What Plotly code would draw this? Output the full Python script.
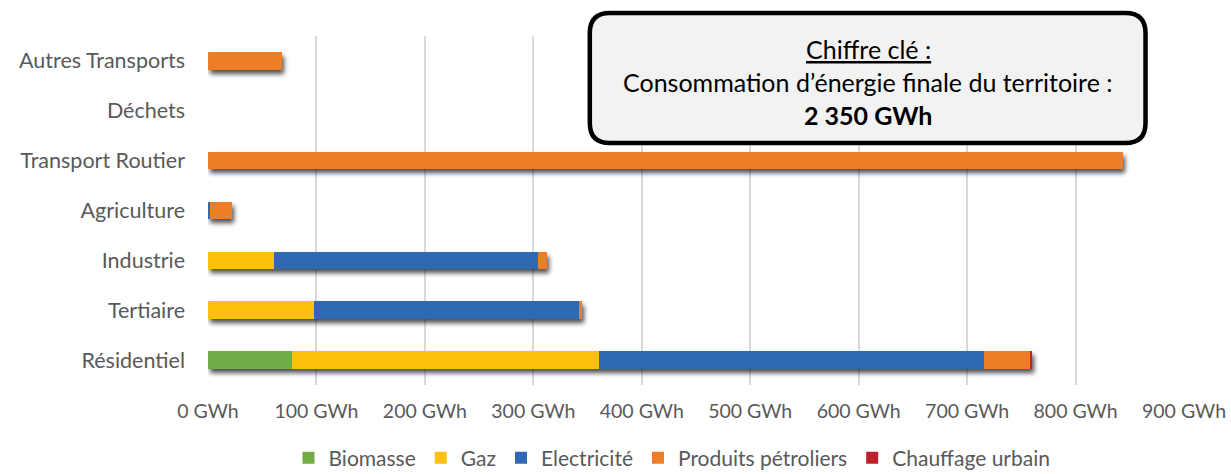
import plotly.graph_objects as go

# Secteurs (de bas en haut) et consommation par énergie, en GWh
secteurs = ["Résidentiel", "Tertiaire", "Industrie", "Agriculture",
            "Transport Routier", "Déchets", "Autres Transports"]

biomasse = [77, 0, 0, 0, 0, 0, 0]
gaz = [284, 97.5, 61, 0, 0, 0, 0]
electricite = [355, 245.5, 243.5, 2, 0, 0, 0]
produits_petroliers = [42, 1.5, 8.5, 20, 844, 0, 68]
chauffage_urbain = [2, 0, 0, 0, 0, 0, 0]

x_ticks = [0, 100, 200, 300, 400, 500, 600, 700, 800, 900]
x_tick_labels = [f"{v} GWh" for v in x_ticks]

series = [
    ("Biomasse", biomasse, "#70ad47"),
    ("Gaz", gaz, "#fdc010"),
    ("Electricité", electricite, "#2f69b3"),
    ("Produits pétroliers", produits_petroliers, "#ed7d27"),
    ("Chauffage urbain", chauffage_urbain, "#c0202a"),
]

FONT = "Lato"
GREY = "#595959"

fig = go.Figure()
for name, vals, color in series:
    fig.add_trace(go.Bar(
        y=secteurs, x=vals, name=name, orientation="h",
        marker=dict(color=color, line=dict(width=0)),
    ))

W, H = 1231, 474
ml, mr, mt, mb = 207.5, 47, 36, 89
pw, ph = W - ml - mr, H - mt - mb


def px(x):
    return (x - ml) / pw


def py(y):
    return (H - mb - y) / ph


fig.update_layout(
    width=W, height=H,
    margin=dict(l=ml, r=mr, t=mt, b=mb, pad=0, autoexpand=False),
    barmode="stack",
    bargap=0.65,
    plot_bgcolor="white",
    paper_bgcolor="white",
    font=dict(family=FONT, size=20, color=GREY),
    xaxis=dict(
        range=[0, 900], tickvals=x_ticks, ticktext=x_tick_labels,
        showgrid=True, gridcolor="#d9d9d9", gridwidth=1.5,
        zeroline=False, showline=False, ticks="",
        ticklabelstandoff=12, automargin=False,
        tickfont=dict(size=19.5, color=GREY, family=FONT),
    ),
    yaxis=dict(
        showgrid=False, zeroline=False, showline=False, ticks="",
        ticklabelstandoff=22, automargin=False,
        tickfont=dict(size=21.5, color=GREY, family=FONT),
    ),
    legend=dict(
        orientation="h", xref="container", x=672 / W, xanchor="center",
        yref="container", y=1 - 458 / H, yanchor="middle",
        font=dict(size=21, color=GREY, family=FONT),
        itemwidth=30, traceorder="normal",
        bgcolor="rgba(0,0,0,0)",
    ),
)

# Encadré « Chiffre clé » aux coins arrondis
x0, x1, y0, y1 = 589.5, 1145.5, 13, 143
r = 20
box = (
    f"M{px(x0 + r)},{py(y0)} L{px(x1 - r)},{py(y0)} "
    f"Q{px(x1)},{py(y0)} {px(x1)},{py(y0 + r)} "
    f"L{px(x1)},{py(y1 - r)} Q{px(x1)},{py(y1)} {px(x1 - r)},{py(y1)} "
    f"L{px(x0 + r)},{py(y1)} Q{px(x0)},{py(y1)} {px(x0)},{py(y1 - r)} "
    f"L{px(x0)},{py(y0 + r)} Q{px(x0)},{py(y0)} {px(x0 + r)},{py(y0)} Z"
)
fig.add_shape(type="path", path=box, xref="paper", yref="paper",
              fillcolor="#f2f2f2", line=dict(color="black", width=4.5),
              layer="above")

cx = px(868)
for text, yy in [("<u>Chiffre clé :</u>", 49),
                 ("Consommation d’énergie finale du territoire :", 82),
                 ("<b>2 350 GWh</b>", 115)]:
    fig.add_annotation(x=cx, y=py(yy), xref="paper", yref="paper",
                       text=text, showarrow=False, xanchor="center",
                       yanchor="middle",
                       font=dict(size=25, color="black", family=FONT))

# Ombre portée sous les barres
shadow_js = """
var gd = document.querySelector('.js-plotly-plot');
function addShadow() {
  var svg = gd.querySelector('svg.main-svg');
  var ns = 'http://www.w3.org/2000/svg';
  if (!document.getElementById('barshadow')) {
    var defs = svg.querySelector('defs');
    if (!defs) { defs = document.createElementNS(ns, 'defs'); svg.insertBefore(defs, svg.firstChild); }
    var f = document.createElementNS(ns, 'filter');
    f.setAttribute('id', 'barshadow');
    f.setAttribute('x', '-5%'); f.setAttribute('y', '-50%');
    f.setAttribute('width', '115%'); f.setAttribute('height', '220%');
    var blur = document.createElementNS(ns, 'feGaussianBlur');
    blur.setAttribute('in', 'SourceAlpha'); blur.setAttribute('stdDeviation', '2.5');
    var off = document.createElementNS(ns, 'feOffset');
    off.setAttribute('dx', '2'); off.setAttribute('dy', '4');
    var ct = document.createElementNS(ns, 'feComponentTransfer');
    var fa = document.createElementNS(ns, 'feFuncA');
    fa.setAttribute('type', 'linear'); fa.setAttribute('slope', '0.7');
    ct.appendChild(fa);
    var merge = document.createElementNS(ns, 'feMerge');
    var m1 = document.createElementNS(ns, 'feMergeNode');
    var m2 = document.createElementNS(ns, 'feMergeNode');
    m2.setAttribute('in', 'SourceGraphic');
    merge.appendChild(m1); merge.appendChild(m2);
    f.appendChild(blur); f.appendChild(off); f.appendChild(ct); f.appendChild(merge);
    defs.appendChild(f);
  }
  gd.querySelectorAll('.barlayer').forEach(function(g){
    g.setAttribute('filter', 'url(#barshadow)');
  });
}
addShadow();
gd.on('plotly_afterplot', addShadow);
"""

fig.write_html("out.html", post_script=shadow_js)
